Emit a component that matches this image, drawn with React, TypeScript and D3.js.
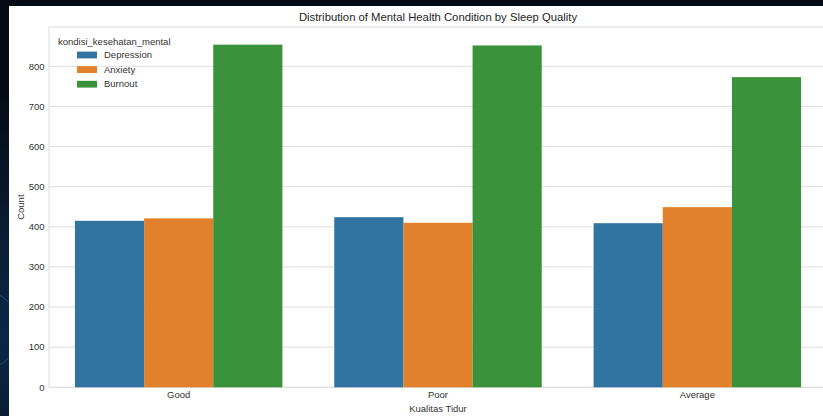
import React from "react";
import * as d3 from "d3";

const categories = ["Good", "Poor", "Average"];
const seriesNames = ["Depression", "Anxiety", "Burnout"];
const depression = [415, 424, 409];
const anxiety = [421, 410, 449];
const burnout = [854, 852, 773];
const yTicks = [0, 100, 200, 300, 400, 500, 600, 700, 800];
const colors = ["#3274a1", "#e1812c", "#3a923a"];

const W = 823;
const H = 416;
const FONT = "'Liberation Sans', Arial, sans-serif";

export default function App() {
  const left = 49, right = 827, top = 27, bottom = 387.3;
  const x = d3.scaleBand<string>().domain(categories).range([left, right]).paddingInner(0.2).paddingOuter(0.1);
  const xs = d3.scaleBand<string>().domain(seriesNames).range([0, x.bandwidth()]).padding(0);
  const y = d3.scaleLinear().domain([0, 898]).range([bottom, top]);
  const values = [depression, anxiety, burnout];
  const grid = "#dedede";
  const text = "#333";

  return (
    <svg width={W} height={H} style={{ position: "fixed", left: 0, top: 0, display: "block" }} fontFamily={FONT}>
      <defs>
        <radialGradient id="bgG" cx="0.1" cy="0.8" r="0.6">
          <stop offset="0" stopColor="#0c2a4a" />
          <stop offset="1" stopColor="#050a14" />
        </radialGradient>
      </defs>
      <rect x={0} y={0} width={W} height={H} fill="url(#bgG)" />
      <circle cx={-20} cy={330} r={40} fill="none" stroke="#4a6a90" strokeOpacity={0.5} strokeWidth={1} />
      <rect x={9} y={6} width={W - 9} height={H - 6} fill="#ffffff" />
      <clipPath id="clipC"><rect x={9} y={6} width={W - 9} height={H - 6} /></clipPath>
      <g clipPath="url(#clipC)">
        {yTicks.map((t) => (
          <line key={t} x1={left} x2={right} y1={y(t)} y2={y(t)} stroke={grid} strokeWidth={1} />
        ))}
        <rect x={left} y={top} width={right - left} height={bottom - top} fill="none" stroke={grid} strokeWidth={1} />
        {categories.map((c, i) => (
          <g key={c}>
            {seriesNames.map((s, j) => (
              <rect
                key={s}
                x={(x(c) as number) + (xs(s) as number)}
                y={y(values[j][i])}
                width={xs.bandwidth()}
                height={y(0) - y(values[j][i])}
                fill={colors[j]}
              />
            ))}
          </g>
        ))}
        {yTicks.map((t) => (
          <text key={t} x={left - 4.5} y={y(t)} dy="0.34em" textAnchor="end" fontSize={9.5} fill={text}>{t}</text>
        ))}
        {categories.map((c) => (
          <text key={c} x={(x(c) as number) + x.bandwidth() / 2} y={398} textAnchor="middle" fontSize={9.5} fill={text}>{c}</text>
        ))}
        <text x={(left + right) / 2} y={412} textAnchor="middle" fontSize={9.5} fill={text}>Kualitas Tidur</text>
        <text transform={`translate(24,${(top + bottom) / 2}) rotate(-90)`} textAnchor="middle" fontSize={9.5} fill={text}>Count</text>
        <text x={(left + right) / 2} y={21} textAnchor="middle" fontSize={11.3} fill="#262626">Distribution of Mental Health Condition by Sleep Quality</text>
        <text x={58} y={45} fontSize={9.5} fill={text}>kondisi_kesehatan_mental</text>
        {seriesNames.map((s, j) => (
          <g key={s} transform={`translate(77,${55 + j * 14.6})`}>
            <rect x={0} y={-3.4} width={20} height={6.8} fill={colors[j]} />
            <text x={27} y={0} dy="0.34em" fontSize={9.5} fill={text}>{s}</text>
          </g>
        ))}
      </g>
    </svg>
  );
}
